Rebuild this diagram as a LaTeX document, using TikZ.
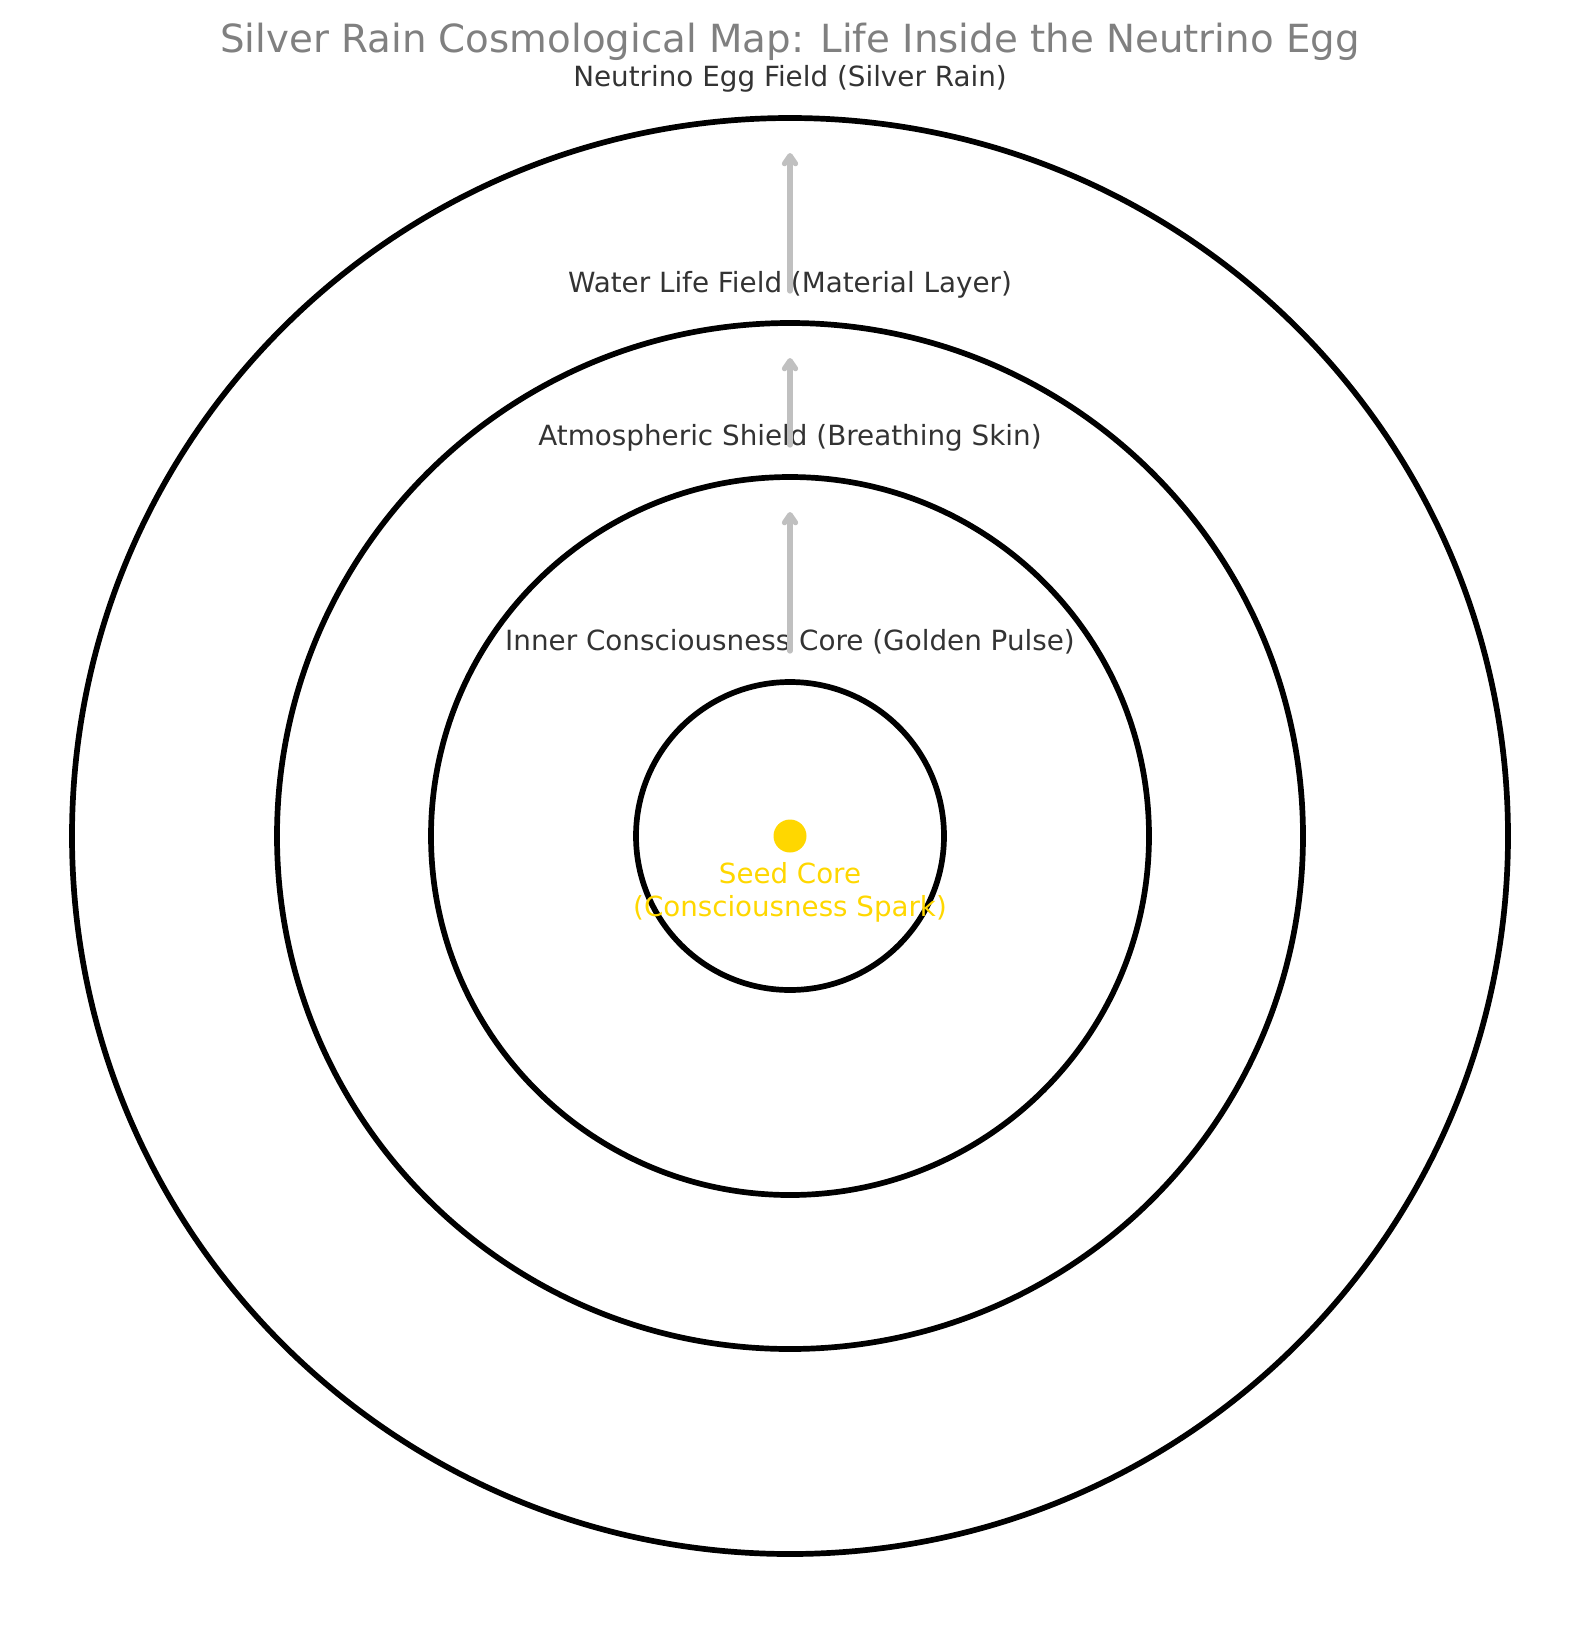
\documentclass[tikz,border=0pt]{standalone}
\usepackage{fontspec}
\setmainfont{DejaVu Sans}
\usetikzlibrary{arrows.meta}
\definecolor{labelc}{HTML}{333333}
\definecolor{titlec}{HTML}{808080}
\definecolor{goldc}{HTML}{FFD700}
\definecolor{silverc}{HTML}{C0C0C0}
\tikzset{
  ring/.style={draw=black,line width=5.7pt},
  flow/.style={draw=silverc,line width=5.3pt,line cap=round,-{Straight Barb[length=8pt,width=11pt,round]}},
  lbl/.style={anchor=base,text=labelc,inner sep=0pt,font=\fontsize{27.8}{33}\selectfont},
  ttl/.style={anchor=base,text=titlec,inner sep=0pt,font=\fontsize{38.75}{46}\selectfont},
  seedlbl/.style={anchor=base,text=goldc,inner sep=0pt,align=center,font=\fontsize{27.7}{33}\selectfont}
}
\begin{document}
\begin{tikzpicture}[x=1pt,y=-1pt]
\useasboundingbox (0,0) rectangle (1580,1626);
\coordinate (c) at (790,836);
% rings
\draw[ring] (c) circle[radius=718pt];
\draw[ring] (c) circle[radius=513pt];
\draw[ring] (c) circle[radius=359pt];
\draw[ring] (c) circle[radius=154pt];
% seed
\fill[goldc] (c) circle[radius=16.5pt];
\node[seedlbl] (seed1) at (790,883) {Seed Core};
\node[seedlbl] (seed2) at (790,916) {(Consciousness Spark)};
% labels
\node[ttl] (title) at (790,52) {Silver Rain Cosmological Map: Life Inside the Neutrino Egg};
\node[lbl] (egg) at (790,86) {Neutrino Egg Field (Silver Rain)};
\node[lbl] (water) at (790,292) {Water Life Field (Material Layer)};
\node[lbl] (atmo) at (790,445) {Atmospheric Shield (Breathing Skin)};
\node[lbl] (inner) at (790,650) {Inner Consciousness Core (Golden Pulse)};
% arrows
\coordinate (a1s) at (790,651);
\coordinate (a1e) at (790,512);
\coordinate (a2s) at (790,445);
\coordinate (a2e) at (790,358);
\coordinate (a3s) at (790,291);
\coordinate (a3e) at (790,153);
\draw[flow] (a1s) -- (a1e);
\draw[flow] (a2s) -- (a2e);
\draw[flow] (a3s) -- (a3e);
\end{tikzpicture}
\end{document}
